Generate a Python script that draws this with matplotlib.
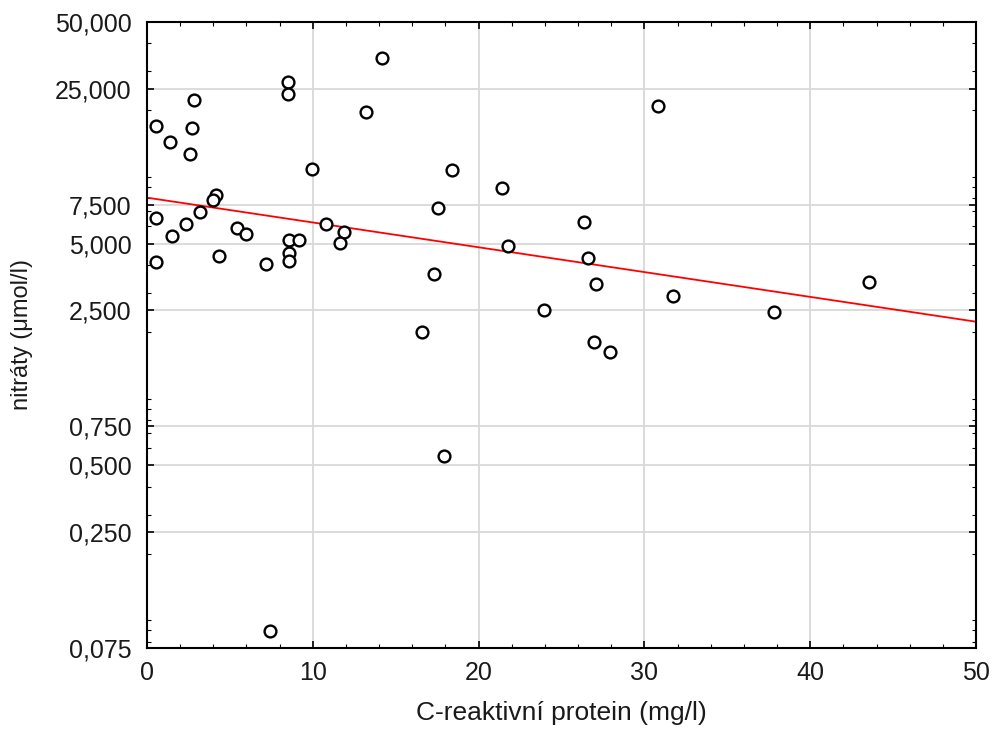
import numpy as np
import matplotlib
matplotlib.use("Agg")
import matplotlib.pyplot as plt
from matplotlib.ticker import FixedLocator, FuncFormatter, MultipleLocator, LogLocator, NullFormatter

# C-reaktivni protein (mg/l)
crp = [0.54, 1.39, 2.85, 2.70, 2.59, 8.52, 8.52, 14.2, 13.2, 9.93,
       18.4, 4.16, 4.0, 0.54, 3.2, 2.35, 1.49, 0.54, 5.45, 5.97,
       4.36, 7.16, 8.55, 9.19, 8.55, 8.55, 10.8, 11.88, 11.64, 16.59,
       17.9, 7.42, 17.57, 21.43, 30.84, 26.38, 21.75, 26.62, 17.33, 27.1,
       31.7, 23.94, 26.98, 37.83, 43.52, 27.94]
# nitraty (umol/l)
nitraty = [17.0, 14.4, 22.2, 16.6, 12.7, 26.9, 23.6, 34.5, 19.7, 10.9,
           10.7, 8.29, 7.87, 6.55, 6.93, 6.12, 5.42, 4.13, 5.90, 5.53,
           4.41, 4.05, 5.18, 5.18, 4.53, 4.19, 6.12, 5.63, 5.05, 1.99,
           0.551, 0.0898, 7.24, 8.92, 20.96, 6.25, 4.90, 4.30, 3.65, 3.30,
           2.90, 2.51, 1.81, 2.45, 3.35, 1.62]

# regrese v log10 meritku
fit_log_intercept = 0.9065
fit_log_slope = -0.01119

y_ticks = [0.075, 0.25, 0.5, 0.75, 2.5, 5, 7.5, 25, 50]
x_ticks = [0, 10, 20, 30, 40, 50]

plt.rcParams['font.family'] = ['Liberation Sans', 'DejaVu Sans']

fig = plt.figure(figsize=(9.94, 7.40), dpi=100)
ax = fig.add_axes([0.1479, 0.1243, 0.9819 - 0.1479, 0.9703 - 0.1243])

ax.set_yscale('log')
ax.set_xlim(0, 50)
ax.set_ylim(0.075, 50)

# primka regrese
xf = np.array(ax.get_xlim())
ax.plot(xf, 10 ** (fit_log_intercept + fit_log_slope * xf), color='red', lw=1.3, zorder=2)

ax.plot(crp, nitraty, 'o', ms=8.5, mfc='white', mec='black', mew=1.7, zorder=3)

ax.yaxis.set_major_locator(FixedLocator(y_ticks))
ax.yaxis.set_major_formatter(FuncFormatter(lambda v, p: f"{v:.3f}".replace('.', ',')))
ax.yaxis.set_minor_locator(LogLocator(base=10, subs=np.arange(1, 10)))
ax.yaxis.set_minor_formatter(NullFormatter())
ax.xaxis.set_major_locator(FixedLocator(x_ticks))
ax.xaxis.set_minor_locator(MultipleLocator(2))

ax.grid(True, which='major', color='#d9d9d9', lw=1.3, zorder=0)
ax.set_axisbelow(True)

ax.tick_params(which='both', direction='in', top=True, right=True, color='black')
ax.tick_params(which='major', length=5, width=1.2)
ax.tick_params(which='minor', length=3, width=0.8)
ax.tick_params(axis='y', labelsize=18, pad=11, labelcolor='#1a1a1a')
ax.tick_params(axis='x', labelsize=18, pad=9, labelcolor='#1a1a1a')

for s in ax.spines.values():
    s.set_linewidth(1.5)

ax.set_xlabel('C-reaktivní protein (mg/l)', fontsize=19, labelpad=12, color='#1a1a1a')
ax.set_ylabel('nitráty (μmol/l)', fontsize=17, labelpad=16, color='#1a1a1a')

fig.savefig('out.png', dpi=100)
